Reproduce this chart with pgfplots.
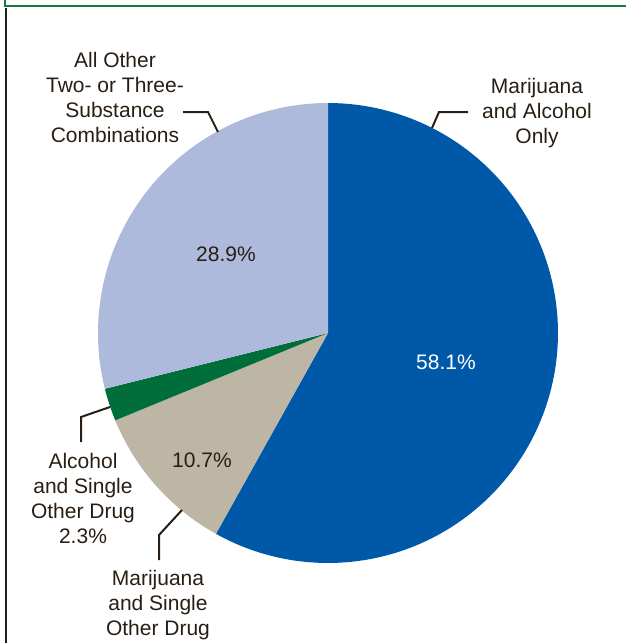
\documentclass[border=0pt]{standalone}
\usepackage{fontspec}
\setmainfont{Liberation Sans}
\usepackage{pgfplots}
\usepackage{pgfplotstable}
\pgfplotsset{compat=1.18}
\definecolor{pieblue}{RGB}{0,89,168}
\definecolor{pietan}{RGB}{190,182,165}
\definecolor{piegreen}{RGB}{0,110,58}
\definecolor{pielight}{RGB}{174,186,220}
\definecolor{txt}{RGB}{40,30,20}
\definecolor{framegreen}{RGB}{20,120,70}
\pgfplotstableread{
pct
58.1
10.7
2.3
28.9
}\piedata
\begin{document}
\begin{tikzpicture}
\pgfplotstablegetelem{0}{pct}\of\piedata \let\pA\pgfplotsretval
\pgfplotstablegetelem{1}{pct}\of\piedata \let\pB\pgfplotsretval
\pgfplotstablegetelem{2}{pct}\of\piedata \let\pC\pgfplotsretval
\pgfplotstablegetelem{3}{pct}\of\piedata \let\pD\pgfplotsretval
\pgfmathsetmacro{\aA}{90}
\pgfmathsetmacro{\aB}{\aA-3.6*\pA}
\pgfmathsetmacro{\aC}{\aB-3.6*\pB}
\pgfmathsetmacro{\aD}{\aC-3.6*\pC}
\pgfmathsetmacro{\aE}{\aD-3.6*\pD}
\begin{axis}[at={(0,0)}, anchor=south west,
  width=626pt, height=643pt, scale only axis,
  xmin=0, xmax=626, ymin=0, ymax=643, y dir=reverse,
  hide axis, clip=false]
\addplot[fill=pieblue, draw=none, domain=\aB:\aA, samples=120, variable=\t]
  ({328+230*cos(\t)},{333-230*sin(\t)}) -- (axis cs:328,333) -- cycle;
\addplot[fill=pietan, draw=none, domain=\aC:\aB, samples=40, variable=\t]
  ({328+230*cos(\t)},{333-230*sin(\t)}) -- (axis cs:328,333) -- cycle;
\addplot[fill=piegreen, draw=none, domain=\aD:\aC, samples=15, variable=\t]
  ({328+230*cos(\t)},{333-230*sin(\t)}) -- (axis cs:328,333) -- cycle;
\addplot[fill=pielight, draw=none, domain=\aE:\aD, samples=80, variable=\t]
  ({328+230*cos(\t)},{333-230*sin(\t)}) -- (axis cs:328,333) -- cycle;
% frame
\draw[framegreen, line width=2.5pt] (axis cs:5,0) -- (axis cs:5,6) -- (axis cs:626,6);
\draw[txt, line width=2.5pt] (axis cs:6,8) -- (axis cs:6,643);
% value labels
\begin{scope}[every node/.style={font=\fontsize{21}{25}\selectfont, align=center, text=txt}]
\node[text=white] at (axis cs:446,362) {58.1\%};
\node at (axis cs:226,254) {28.9\%};
\node at (axis cs:202,460) {10.7\%};
\node at (axis cs:537,113) {Marijuana\\and Alcohol\\Only};
\node at (axis cs:115,97) {All Other\\Two- or Three-\\Substance\\Combinations};
\node at (axis cs:83,498) {Alcohol\\and Single\\Other Drug\\2.3\%};
\node at (axis cs:158,605) {Marijuana\\and Single\\Other Drug};
\end{scope}
% leader lines
\draw[txt, line width=2pt] (axis cs:432,128) -- (axis cs:439,112) -- (axis cs:468,112);
\draw[txt, line width=2pt] (axis cs:183,112) -- (axis cs:208,112) -- (axis cs:218,132);
\draw[txt, line width=2pt] (axis cs:110,407) -- (axis cs:81,417) -- (axis cs:81,442);
\draw[txt, line width=2pt] (axis cs:182,510) -- (axis cs:159,535) -- (axis cs:159,560);
\end{axis}
\pgfresetboundingbox
\useasboundingbox (0,0) rectangle (626pt,643pt);
\end{tikzpicture}
\end{document}
